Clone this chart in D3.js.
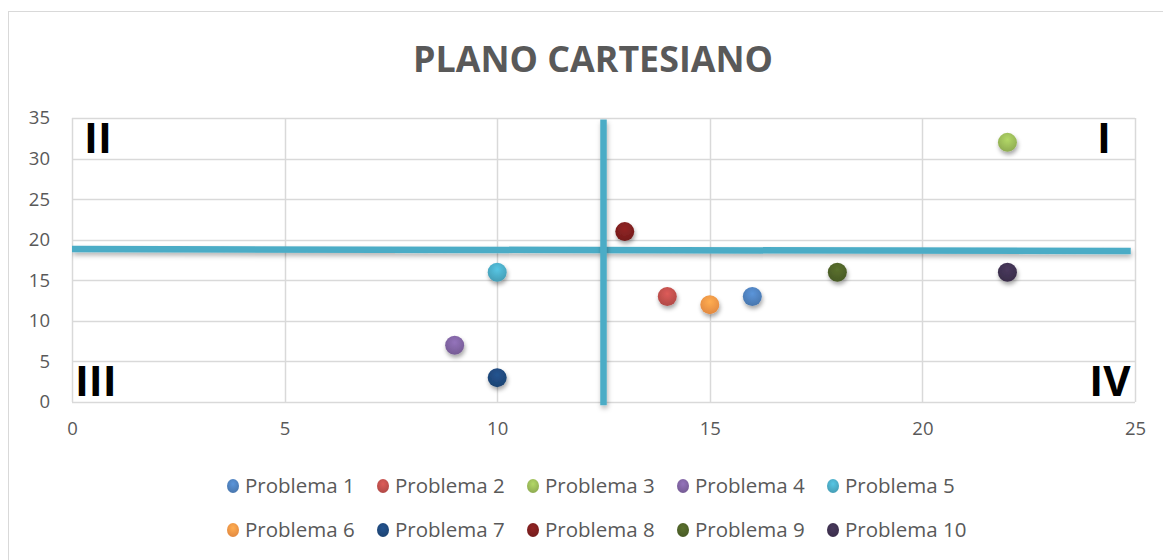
<!DOCTYPE html>
<html>
<head>
<meta charset="utf-8">
<script src="https://cdn.jsdelivr.net/npm/d3@7"></script>
<style>
body { margin: 0; background: #fff; }
svg text { font-family: "Open Sans", "Liberation Sans", sans-serif; }
</style>
</head>
<body>
<div id="chart"></div>
<script>
// data
var seriesNames = ["Problema 1", "Problema 2", "Problema 3", "Problema 4", "Problema 5",
                   "Problema 6", "Problema 7", "Problema 8", "Problema 9", "Problema 10"];
var xValues = [16, 14, 22, 9, 10, 15, 10, 13, 18, 22];
var yValues = [13, 13, 32, 7, 16, 12, 3, 21, 16, 16];
var seriesColors = ["#4f81bd", "#c0504d", "#9bbb59", "#8064a2", "#4bacc6",
                    "#f79646", "#1f497d", "#7f1f1f", "#4f6228", "#3f3151"];
var xTicks = [0, 5, 10, 15, 20, 25];
var yTicks = [0, 5, 10, 15, 20, 25, 30, 35];
// the two dividing lines drawn on top of the chart
var hLine = [[0, 18.85], [24.9, 18.6]];
var vLine = [[12.5, 34.8], [12.5, -0.4]];
var quadrants = [
  {label: "I",   x: 24.27, y: 30.7},
  {label: "II",  x: 0.61,  y: 30.7},
  {label: "III", x: 0.56,  y: 0.74},
  {label: "IV",  x: 24.41, y: 0.74}
];

var W = 1163, H = 560;
var margin = {top: 118, right: 30, bottom: 158, left: 72};
var width = 1135 - margin.left;
var height = 402 - margin.top;

var svg = d3.select("#chart").append("svg")
    .attr("width", W)
    .attr("height", H);

var defs = svg.append("defs");
var shadow = defs.append("filter").attr("id", "shadow")
    .attr("x", "-50%").attr("y", "-50%").attr("width", "200%").attr("height", "200%");
shadow.append("feDropShadow").attr("dx", 1).attr("dy", 3).attr("stdDeviation", 2)
    .attr("flood-color", "#000").attr("flood-opacity", 0.35);

// lines have a flat bounding box, so their shadow works in user space
var lineShadow = defs.append("filter").attr("id", "lineShadow")
    .attr("filterUnits", "userSpaceOnUse")
    .attr("x", 0).attr("y", 0).attr("width", W).attr("height", H);
lineShadow.append("feDropShadow").attr("dx", 1).attr("dy", 3).attr("stdDeviation", 2.5)
    .attr("flood-color", "#000").attr("flood-opacity", 0.3);

seriesColors.forEach(function(c, i){
    var g = defs.append("radialGradient").attr("id", "grad" + i)
        .attr("cx", "50%").attr("cy", "35%").attr("r", "65%");
    g.append("stop").attr("offset", "0%").attr("stop-color", d3.color(c).brighter(0.4));
    g.append("stop").attr("offset", "100%").attr("stop-color", d3.color(c).darker(0.25));
});

// chart border
svg.append("rect")
    .attr("x", 8.5).attr("y", 11.5)
    .attr("width", 1170).attr("height", 560)
    .attr("fill", "none").attr("stroke", "#d9d9d9");

svg.append("text")
    .attr("x", 593).attr("y", 72)
    .attr("text-anchor", "middle")
    .attr("font-size", 36)
    .attr("font-weight", "bold")
    .attr("fill", "#595959")
    .attr("textLength", 360)
    .attr("lengthAdjust", "spacingAndGlyphs")
    .text("PLANO CARTESIANO");

var g = svg.append("g")
    .attr("transform", "translate(" + margin.left + "," + margin.top + ")");

var x = d3.scaleLinear().domain([0, 25]).range([0, width]);
var y = d3.scaleLinear().domain([0, 35]).range([height, 0]);

// grid
g.append("g").selectAll("line").data(yTicks).enter().append("line")
    .attr("x1", 0).attr("x2", width)
    .attr("y1", function(d){ return Math.round(y(d)) + 0.5; })
    .attr("y2", function(d){ return Math.round(y(d)) + 0.5; })
    .attr("stroke", "#d9d9d9").attr("stroke-width", 1.5);
g.append("g").selectAll("line").data(xTicks).enter().append("line")
    .attr("y1", 0).attr("y2", height)
    .attr("x1", function(d){ return Math.round(x(d)) + 0.5; })
    .attr("x2", function(d){ return Math.round(x(d)) + 0.5; })
    .attr("stroke", "#d9d9d9").attr("stroke-width", 1.5);

// axes
var xAxis = g.append("g")
    .attr("transform", "translate(0," + height + ")")
    .call(d3.axisBottom(x).tickValues(xTicks).tickSize(0).tickPadding(20));
var yAxis = g.append("g")
    .call(d3.axisLeft(y).tickValues(yTicks).tickSize(0).tickPadding(22));
[xAxis, yAxis].forEach(function(a){
    a.select(".domain").remove();
    a.selectAll("text")
        .attr("font-size", 18.5)
        .attr("fill", "#595959")
        .style("font-family", "'Open Sans', sans-serif");
});

// quadrant labels
g.selectAll(".quad").data(quadrants).enter().append("text")
    .attr("class", "quad")
    .attr("x", function(d){ return x(d.x); })
    .attr("y", function(d){ return y(d.y); })
    .attr("text-anchor", "middle")
    .attr("font-size", 42)
    .attr("font-weight", "bold")
    .attr("fill", "#000")
    .text(function(d){ return d.label; });

// blue dividing lines
var line = d3.line().x(function(d){ return x(d[0]); }).y(function(d){ return y(d[1]); });
[hLine, vLine].forEach(function(l){
    g.append("path")
        .attr("d", line(l))
        .attr("fill", "none")
        .attr("stroke", "#4bacc6")
        .attr("stroke-width", 6.5)
        .attr("filter", "url(#lineShadow)");
});

// points
var points = seriesNames.map(function(n, i){
    return {name: n, x: xValues[i], y: yValues[i], i: i};
});
g.selectAll(".dot").data(points).enter().append("circle")
    .attr("class", "dot")
    .attr("cx", function(d){ return x(d.x); })
    .attr("cy", function(d){ return y(d.y); })
    .attr("r", 9.5)
    .attr("fill", function(d){ return "url(#grad" + d.i + ")"; })
    .attr("filter", "url(#shadow)");

// legend
var legend = svg.selectAll(".legend").data(seriesNames).enter().append("g")
    .attr("class", "legend")
    .attr("transform", function(d, i){
        return "translate(" + (233 + (i % 5) * 150) + "," + (486 + Math.floor(i / 5) * 44) + ")";
    });
legend.append("ellipse")
    .attr("rx", 6).attr("ry", 7)
    .attr("fill", function(d, i){ return "url(#grad" + i + ")"; });
legend.append("text")
    .attr("x", 12).attr("y", 7)
    .attr("font-size", 20.5)
    .attr("fill", "#595959")
    .text(function(d){ return d; });
</script>
</body>
</html>
